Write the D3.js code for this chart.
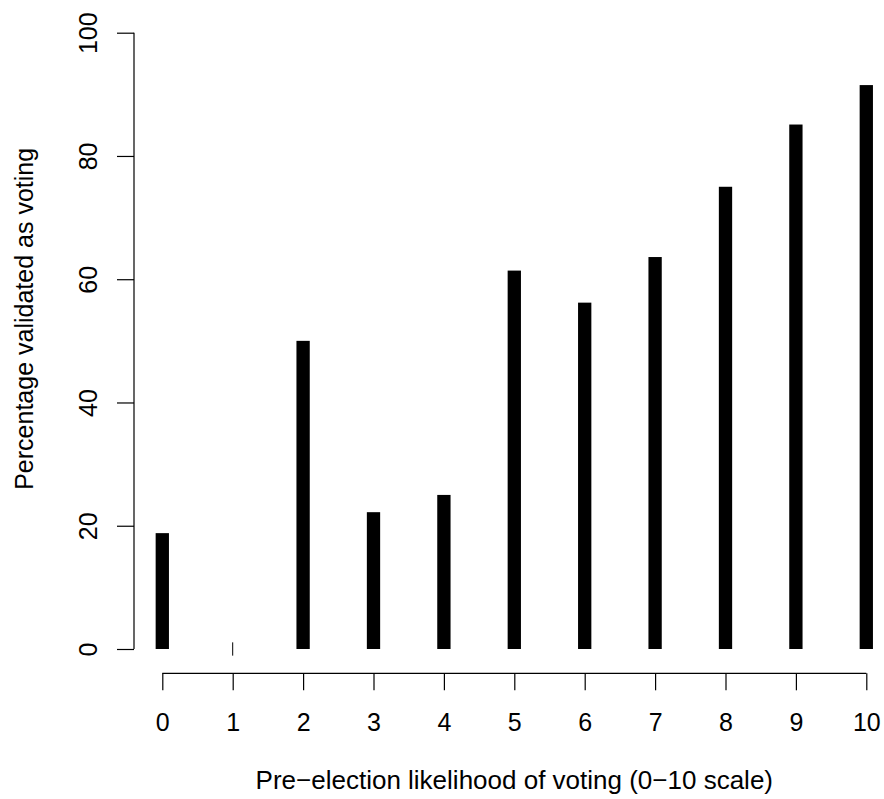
<!DOCTYPE html>
<html>
<head>
<meta charset="utf-8">
<script src="https://cdn.jsdelivr.net/npm/d3@7"></script>
<style>
  html, body { margin: 0; padding: 0; background: #fff; }
  svg { display: block; }
  text { font-family: "Liberation Sans", Arial, sans-serif; fill: #000; }
</style>
</head>
<body>
<svg id="chart" width="884" height="799"></svg>
<script>
const categories = [0, 1, 2, 3, 4, 5, 6, 7, 8, 9, 10];
const values = [18.8, 0, 50.0, 22.2, 25.0, 61.4, 56.2, 63.6, 75.0, 85.1, 91.5];
const yTicks = [0, 20, 40, 60, 80, 100];
const xLabel = "Pre\u2212election likelihood of voting (0\u221210 scale)";
const yLabel = "Percentage validated as voting";

const svg = d3.select("#chart");
const fontSize = 25;

const x = d3.scaleLinear().domain([0, 10]).range([162.3, 866.3]);
const y = d3.scaleLinear().domain([0, 100]).range([649, 32.7]);
const yAxisX = 134;
const xAxisY = 673.3;
const tickLen = 17;
const barW = 13.3;

// Bars (R type="h" thick lines)
const data = categories.map((c, i) => ({ c, v: values[i] }));
svg.append("g").selectAll("rect")
  .data(data.filter(d => d.v > 0))
  .join("rect")
  .attr("x", d => x(d.c) - barW / 2)
  .attr("y", d => y(d.v))
  .attr("width", barW)
  .attr("height", d => y(0) - y(d.v))
  .attr("fill", "#000");

// Zero-length segment artifact
svg.append("g").selectAll("line")
  .data(data.filter(d => d.v === 0))
  .join("line")
  .attr("x1", d => x(d.c)).attr("x2", d => x(d.c))
  .attr("y1", d => y(0) - barW / 2).attr("y2", d => y(0) + barW / 2)
  .attr("stroke", "#000").attr("stroke-width", 1);

// Y axis
const yAxis = d3.axisLeft(y).tickValues(yTicks).tickSize(tickLen).tickPadding(0).tickFormat(d3.format("d"));
const gy = svg.append("g").attr("transform", `translate(${yAxisX},0)`).call(yAxis);
gy.select(".domain").attr("d", `M0,${y(100)}V${y(0)}`).attr("stroke", "#000").attr("stroke-width", 1.2);
gy.selectAll(".tick line").attr("stroke", "#000").attr("stroke-width", 1.2);
gy.selectAll(".tick text")
  .attr("x", null).attr("dy", null)
  .attr("transform", "translate(-37,0) rotate(-90)")
  .attr("text-anchor", "middle")
  .style("font-size", fontSize + "px")
  .style("font-family", "'Liberation Sans', Arial, sans-serif")
  .attr("fill", "#000");

// X axis
const xAxis = d3.axisBottom(x).tickValues(categories).tickSize(tickLen).tickPadding(0).tickFormat(d3.format("d"));
const gx = svg.append("g").attr("transform", `translate(0,${xAxisY})`).call(xAxis);
gx.select(".domain").attr("d", `M${x(0)},0H${x(10)}`).attr("stroke", "#000").attr("stroke-width", 1.2);
gx.selectAll(".tick line").attr("stroke", "#000").attr("stroke-width", 1.2);
gx.selectAll(".tick text")
  .attr("y", 57.5).attr("dy", null)
  .attr("text-anchor", "middle")
  .style("font-size", fontSize + "px")
  .style("font-family", "'Liberation Sans', Arial, sans-serif")
  .attr("fill", "#000");

// Axis titles
svg.append("text")
  .attr("x", (x(0) + x(10)) / 2).attr("y", 789)
  .attr("text-anchor", "middle")
  .style("font-size", "26px")
  .text(xLabel);

svg.append("text")
  .attr("transform", `translate(32.7,${y(50) - 22}) rotate(-90)`)
  .attr("text-anchor", "middle")
  .style("font-size", fontSize + "px")
  .text(yLabel);
</script>
</body>
</html>
